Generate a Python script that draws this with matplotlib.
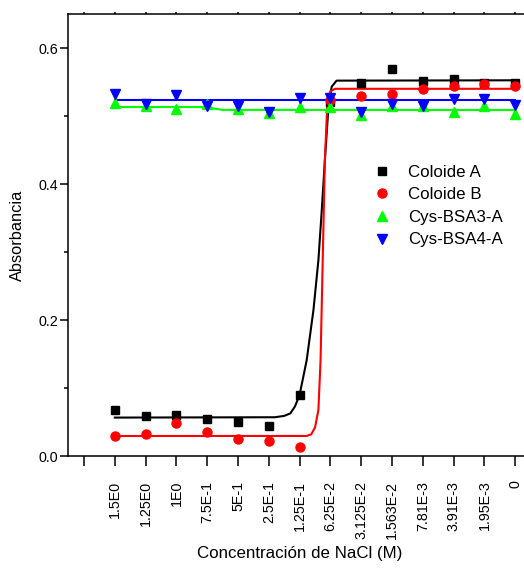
import numpy as np
import matplotlib.pyplot as plt

plt.rcParams['font.family'] = ['Liberation Sans', 'DejaVu Sans']

# ---------------------------------------------------------
# Data
# ---------------------------------------------------------
conc_labels = ['', '1.5E0', '1.25E0', '1E0', '7.5E-1', '5E-1', '2.5E-1', '1.25E-1',
               '6.25E-2', '3.125E-2', '1.563E-2', '7.81E-3', '3.91E-3', '1.95E-3', '0']
pos = np.arange(1, 15)

coloide_a = [0.068, 0.059, 0.061, 0.055, 0.050, 0.044, 0.090,
             0.521, 0.549, 0.569, 0.552, 0.555, 0.549, 0.548]
coloide_b = [0.029, 0.033, 0.048, 0.036, 0.025, 0.022, 0.013,
             0.523, 0.530, 0.532, 0.539, 0.5445, 0.5465, 0.544]
cys_bsa3 = [0.519, 0.514, 0.510, 0.518, 0.511, 0.505, 0.513,
            0.513, 0.501, 0.515, 0.514, 0.506, 0.514, 0.503]
cys_bsa4 = [0.533, 0.517, 0.531, 0.515, 0.515, 0.506, 0.526,
            0.526, 0.506, 0.517, 0.514, 0.5245, 0.5245, 0.5166]

# fitted curves (vertices)
fit_a_x = [1, 6.2, 6.5, 6.7, 6.85, 7.0, 7.23, 7.45, 7.61, 7.72, 7.82, 7.93, 8.04, 8.2, 14]
fit_a_y = [0.0565, 0.0570, 0.059, 0.0627, 0.073, 0.090, 0.141, 0.215, 0.288,
           0.362, 0.435, 0.509, 0.543, 0.552, 0.5525]
fit_b_x = [1, 7.23, 7.38, 7.5, 7.61, 7.68, 7.75, 7.82, 7.9, 7.99, 8.15, 14]
fit_b_y = [0.0294, 0.0295, 0.032, 0.042, 0.0676, 0.141, 0.288, 0.435, 0.519,
           0.536, 0.540, 0.540]
fit_3_x = [1, 3.95, 4.2, 4.5, 14]
fit_3_y = [0.5132, 0.5132, 0.5112, 0.5090, 0.5088]
fit_4_x = [1, 14]
fit_4_y = [0.523, 0.523]

# ---------------------------------------------------------
# Plot
# ---------------------------------------------------------
fig = plt.figure(figsize=(5.24, 5.69), dpi=100)
ax = fig.add_axes([68 / 524, 1 - 456 / 569, 458 / 524, 442 / 569])

ax.plot(fit_a_x, fit_a_y, color='black', lw=1.5, zorder=2)
ax.plot(fit_b_x, fit_b_y, color='red', lw=1.5, zorder=2)
ax.plot(fit_3_x, fit_3_y, color='#00ff00', lw=1.5, zorder=2)
ax.plot(fit_4_x, fit_4_y, color='blue', lw=1.5, zorder=2)

ax.plot(pos, coloide_a, 's', color='black', ms=6, ls='none', label='Coloide A', zorder=3)
ax.plot(pos, coloide_b, 'o', color='red', ms=6.5, ls='none', label='Coloide B', zorder=3)
ax.plot(pos, cys_bsa3, '^', color='#00ff00', ms=7, ls='none', label='Cys-BSA3-A', zorder=3)
ax.plot(pos, cys_bsa4, 'v', color='blue', ms=7, ls='none', label='Cys-BSA4-A', zorder=3)

ax.set_xlim(-0.52, 14.35)
ax.set_ylim(0, 0.65)

ax.set_xticks(np.arange(0, 15))
ax.set_xticklabels(conc_labels, rotation=90, fontsize=10.3)
ax.set_yticks([0.0, 0.2, 0.4, 0.6])
ax.set_yticklabels(['0.0', '0.2', '0.4', '0.6'], fontsize=10.3)
ax.set_yticks([0.1, 0.3, 0.5], minor=True)

ax.tick_params(axis='x', which='major', direction='out', length=7, width=1.1,
               pad=10.7, top=True, labeltop=False)
ax.tick_params(axis='y', which='major', direction='out', length=5.5, width=1.1, pad=1.5)
ax.tick_params(axis='y', which='minor', direction='out', length=3, width=1.1)

for sp in ['left', 'bottom', 'top']:
    ax.spines[sp].set_linewidth(1.1)
ax.spines['right'].set_visible(False)

# top ticks are tiny in the original
for t in ax.xaxis.get_major_ticks():
    t.tick2line.set_markersize(1.5)

ax.set_xlabel('Concentración de NaCl (M)', fontsize=12.2)
ax.xaxis.set_label_coords(0.505, -0.203)
ax.set_ylabel('Absorbancia', fontsize=11.8)
ax.yaxis.set_label_coords(-0.093, 0.5)

ax.legend(loc='upper left', bbox_to_anchor=(0.653, 0.674), frameon=False, fontsize=12.2,
          numpoints=1, handlelength=1.0, handletextpad=1.02, labelspacing=0.445,
          borderaxespad=0)

fig.savefig('out.png', dpi=100)
